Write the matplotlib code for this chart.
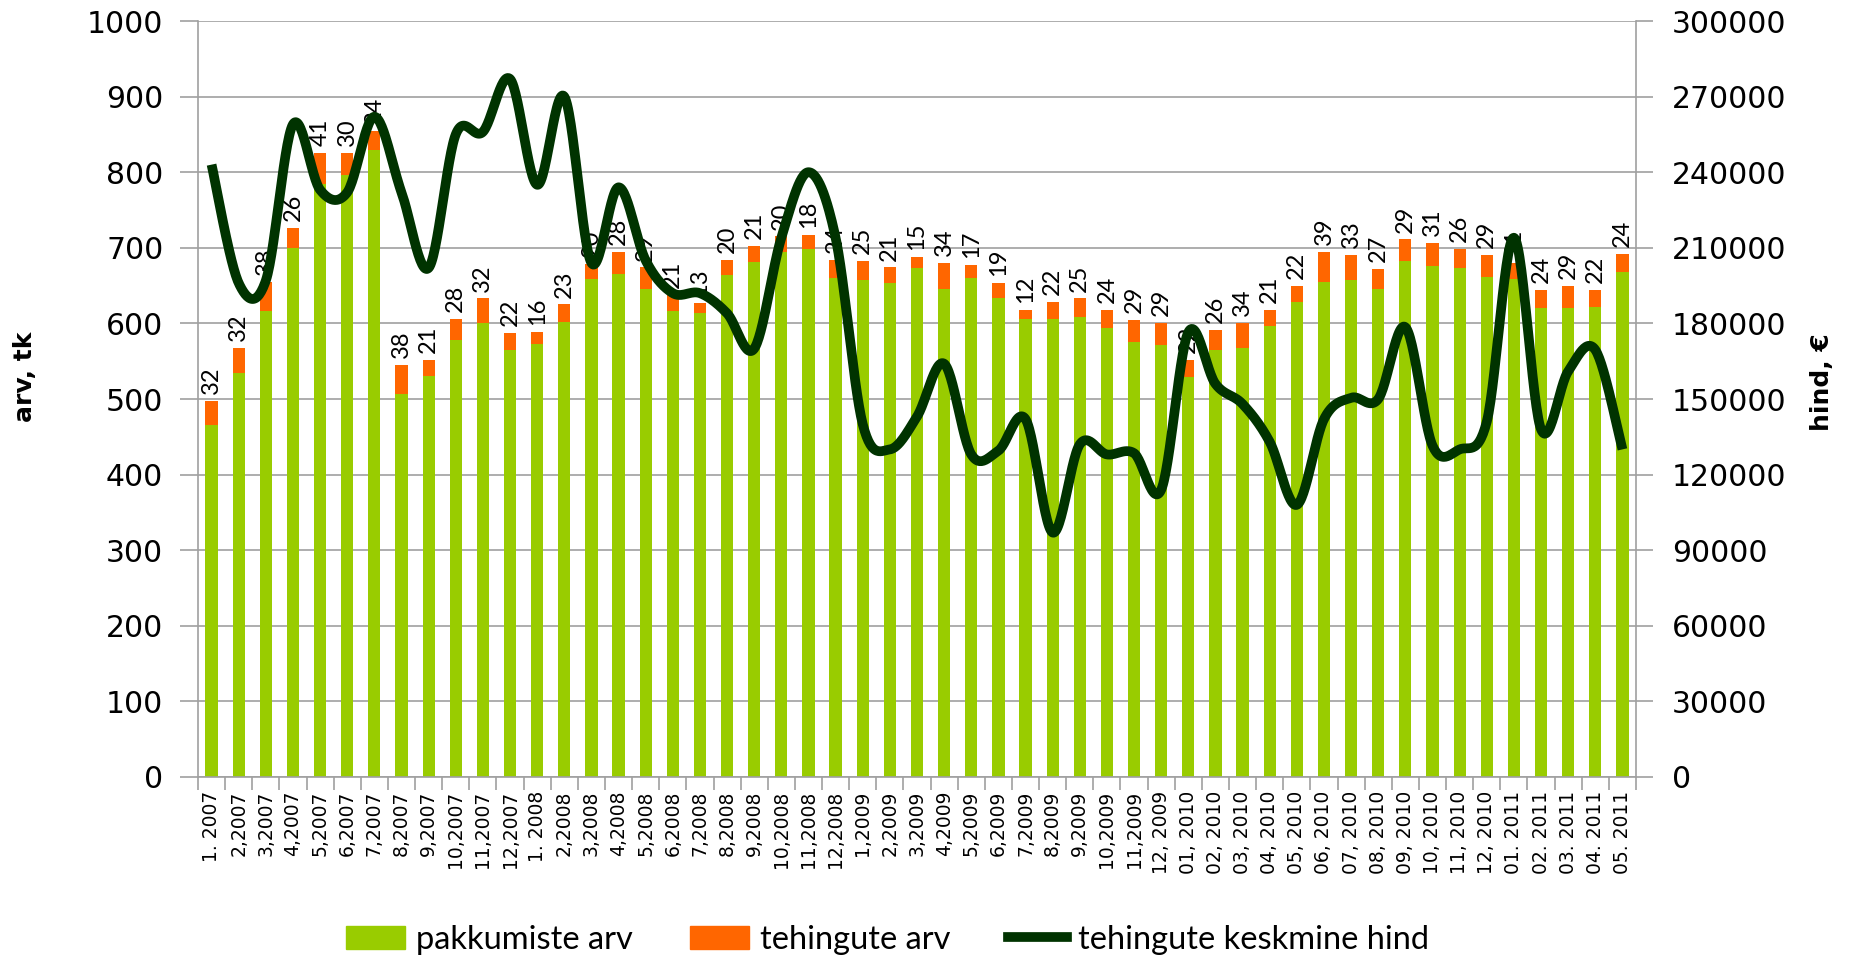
import numpy as np
import matplotlib
matplotlib.use('Agg')
import matplotlib.pyplot as plt
from matplotlib.lines import Line2D
from matplotlib.patches import Patch

# kuud
kuud = ['1. 2007', '2,2007', '3,2007', '4,2007', '5,2007', '6,2007', '7,2007', '8,2007',
        '9,2007', '10,2007', '11,2007', '12,2007',
        '1. 2008', '2,2008', '3,2008', '4,2008', '5,2008', '6,2008', '7,2008', '8,2008',
        '9,2008', '10,2008', '11,2008', '12,2008',
        '1,2009', '2,2009', '3,2009', '4,2009', '5,2009', '6,2009', '7,2009', '8,2009',
        '9,2009', '10,2009', '11,2009', '12, 2009',
        '01, 2010', '02, 2010', '03, 2010', '04, 2010', '05, 2010', '06, 2010', '07, 2010',
        '08, 2010', '09, 2010', '10, 2010', '11, 2010', '12, 2010',
        '01. 2011', '02. 2011', '03. 2011', '04. 2011', '05. 2011']

# pakkumiste arv
pakkumised = [466, 535, 617, 700, 785, 796, 830, 507, 530, 578, 601, 565,
              573, 602, 659, 666, 645, 616, 614, 664, 681, 695, 699, 660,
              657, 653, 673, 646, 660, 634, 606, 606, 608, 594, 575, 572,
              529, 565, 567, 597, 628, 655, 658, 645, 682, 676, 673, 661,
              659, 620, 621, 622, 668]

# tehingute arv
tehingud = [32, 32, 38, 26, 41, 30, 24, 38, 21, 28, 32, 22,
            16, 23, 20, 28, 29, 21, 13, 20, 21, 20, 18, 24,
            25, 21, 15, 34, 17, 19, 12, 22, 25, 24, 29, 29,
            22, 26, 34, 21, 22, 39, 33, 27, 29, 31, 26, 29,
            21, 24, 29, 22, 24]

# tehingute keskmine hind
hind = [243000, 196000, 197000, 259000, 233000, 232000, 262000, 232000, 202000, 255000, 256000, 277000,
        235000, 270000, 204000, 234000, 205000, 192000, 192000, 184000, 170000, 214000, 240000, 214000,
        140000, 130000, 143000, 164000, 128000, 129500, 142000, 97000, 132000, 128000, 128500, 114000,
        176500, 156000, 148000, 133000, 108000, 142000, 150500, 150000, 178500, 131500, 130000, 141000,
        214000, 138000, 161000, 169500, 130000]

roheline = '#99cc00'
oranz = '#ff6600'
joon = '#003300'
hall = '#a0a0a0'
kitsas = ['Lato', 'DejaVu Sans']


def silu(x, y, n=30):
    # Exceli-laadne silumine (Catmull-Rom Bezier)
    p = np.column_stack([x, y]).astype(float)
    p = np.vstack([p[0], p, p[-1]])
    out = []
    t = np.linspace(0, 1, n)[:, None]
    for i in range(1, len(p) - 2):
        p0, p1, p2, p3 = p[i - 1], p[i], p[i + 1], p[i + 2]
        c1 = p1 + (p2 - p0) / 6
        c2 = p2 - (p3 - p1) / 6
        seg = ((1 - t) ** 3) * p1 + 3 * ((1 - t) ** 2) * t * c1 + 3 * (1 - t) * t ** 2 * c2 + t ** 3 * p2
        out.append(seg)
    out = np.vstack(out)
    return out[:, 0], out[:, 1]


fig = plt.figure(figsize=(18.52, 9.55), dpi=100)
ax = fig.add_axes([198 / 1852, 1 - 777 / 955, (1636 - 198) / 1852, (777 - 21) / 955])

x = np.arange(len(kuud))
pk = np.array(pakkumised)
th = np.array(tehingud)

ax.bar(x, pk, width=0.45, color=roheline, zorder=2)
ax.bar(x, th, width=0.45, bottom=pk, color=oranz, zorder=2)

# andmesildid
for xi, b, t in zip(x, pk, th):
    ax.annotate(str(t), (xi, b + t), xytext=(0, 5), textcoords='offset points',
                rotation=90, ha='center', va='bottom', fontsize=17,
                family=kitsas, zorder=3)

ax.set_xlim(-0.5, len(kuud) - 0.5)
ax.set_ylim(0, 1000)
ax.set_yticks(np.arange(0, 1001, 100))
ax.yaxis.grid(True, color=hall, lw=1.2, zorder=0)
ax.set_axisbelow(True)

ax.set_xticks(x)
ax.set_xticklabels(kuud, rotation=90, fontsize=13.5, family='DejaVu Sans')
ax.set_xticks(np.arange(-0.5, len(kuud), 1), minor=True)
ax.tick_params(axis='x', which='major', length=0, pad=10)
ax.tick_params(axis='x', which='minor', length=9, color=hall, width=1.2)
ax.tick_params(axis='y', length=13, color=hall, width=1.2, labelsize=21.5, pad=12)

for s in ['top', 'right']:
    ax.spines[s].set_visible(False)
ax.spines['left'].set_color(hall)
ax.spines['bottom'].set_color(hall)
ax.spines['left'].set_linewidth(1.2)
ax.spines['bottom'].set_linewidth(1.2)

# hinna telg
ax2 = ax.twinx()
ax2.set_ylim(0, 300000)
ax2.set_yticks(np.arange(0, 300001, 30000))
ax2.tick_params(axis='y', length=12, color=hall, width=1.2, labelsize=21.5, pad=14)
for s in ['top', 'left', 'bottom']:
    ax2.spines[s].set_visible(False)
ax2.spines['right'].set_color(hall)
ax2.spines['right'].set_linewidth(1.2)

sx, sy = silu(x, hind)
ax2.plot(sx, sy, color=joon, lw=7, solid_capstyle='butt', zorder=5)

fig.text(25 / 1852, 0.605, 'arv, tk', rotation=90, ha='center', va='center',
         fontsize=18, fontweight='bold')
fig.text(1822 / 1852, 0.6, 'hind, €', rotation=90, ha='center', va='center',
         fontsize=18, fontweight='bold')

# legend
kasitsejad = [Patch(color=roheline), Patch(color=oranz), Line2D([], [], color=joon, lw=7)]
fig.legend(kasitsejad, ['pakkumiste arv', 'tehingute arv', 'tehingute keskmine hind'],
           loc='center left', bbox_to_anchor=(346 / 1852, 0.016), ncol=3, frameon=False,
           prop={'family': kitsas, 'size': 23.5},
           handlelength=1.8, handleheight=0.7, handletextpad=0.35, columnspacing=1.75,
           borderpad=0, borderaxespad=0)

fig.savefig('out.png', dpi=100)
